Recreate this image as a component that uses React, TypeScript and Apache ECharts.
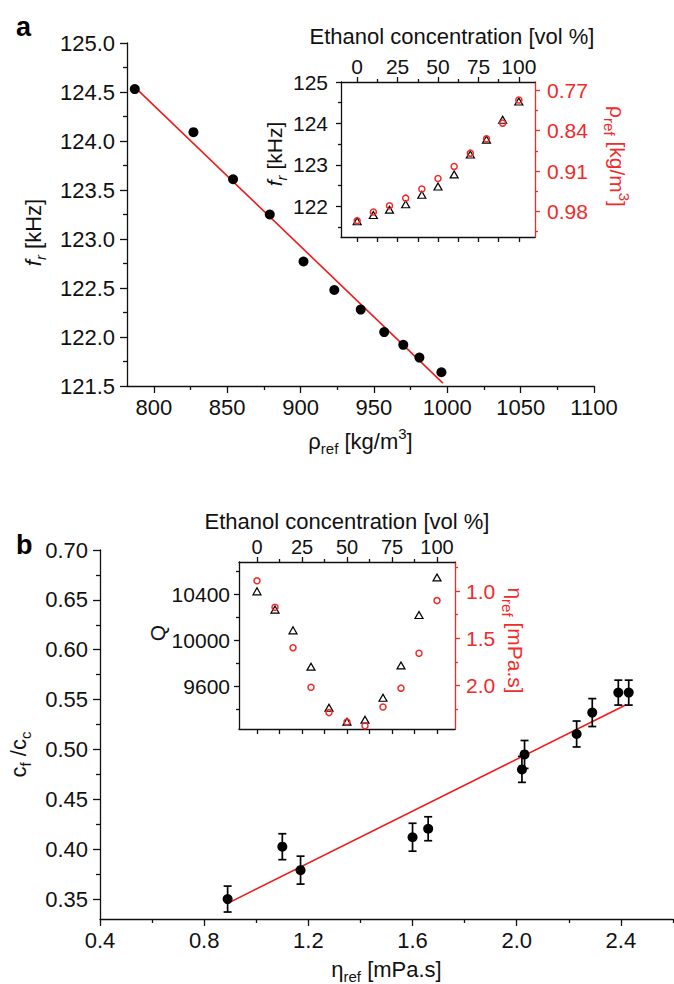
import React, { useEffect, useRef } from 'react';
import * as echarts from 'echarts';

// ---------- data ----------
const ethanolConc = [0, 10, 20, 30, 40, 50, 60, 70, 80, 90, 100];
// reference density (g/cm3) per ethanol concentration
const densityRef = [0.996, 0.981, 0.970, 0.957, 0.941, 0.923, 0.902, 0.879, 0.854, 0.827, 0.787];
// resonance frequency f_r [kHz] per ethanol concentration
const resonanceFreq = [121.64, 121.79, 121.92, 122.05, 122.28, 122.48, 122.77, 123.25, 123.61, 124.09, 124.53];
// reference viscosity [mPa.s] per ethanol concentration
const viscosityRef = [0.89, 1.17, 1.60, 2.02, 2.29, 2.39, 2.43, 2.23, 2.03, 1.66, 1.10];
// quality factor Q per ethanol concentration
const qFactor = [10429, 10270, 10090, 9774, 9417, 9296, 9313, 9504, 9785, 10223, 10550];
// c_f / c_c per ethanol concentration, with error
const cfOverCc = [0.350, 0.379, 0.412, 0.480, 0.537, 0.557, 0.557, 0.5155, 0.495, 0.4205, 0.4025];
const cfOverCcErr = [0.013, 0.014, 0.014, 0.013, 0.014, 0.0125, 0.0125, 0.013, 0.014, 0.012, 0.013];
// linear fits (end points)
const fitAX = [787, 997];
const fitAY = [124.55, 121.53];
const fitBX = [0.89, 2.42];
const fitBY = [0.3457, 0.5449];

// ---------- ticks ----------
const mainAXTicks = [800, 850, 900, 950, 1000, 1050, 1100];
const mainAXMinor = [825, 875, 925, 975, 1025, 1075];
const mainAYTicks = [121.5, 122.0, 122.5, 123.0, 123.5, 124.0, 124.5, 125.0];
const mainAYMinor = [121.75, 122.25, 122.75, 123.25, 123.75, 124.25, 124.75];
const concTicks = [0, 25, 50, 75, 100];
const concMinor = [12.5, 37.5, 62.5, 87.5];
const insetAFTicks = [122, 123, 124, 125];
const insetAFMinor = [121.5, 122.5, 123.5, 124.5];
const insetARhoTicks = [0.77, 0.84, 0.91, 0.98];
const insetARhoMinor = [0.805, 0.875, 0.945, 1.015];
const mainBXTicks = [0.4, 0.8, 1.2, 1.6, 2.0, 2.4];
const mainBXMinor = [0.6, 1.0, 1.4, 1.8, 2.2, 2.6];
const mainBYTicks = [0.35, 0.40, 0.45, 0.50, 0.55, 0.60, 0.65, 0.70];
const mainBYMinor = [0.375, 0.425, 0.475, 0.525, 0.575, 0.625, 0.675];
const insetBQTicks = [9600, 10000, 10400];
const insetBQMinor = [9400, 9800, 10200, 10600];
const insetBEtaTicks = [1.0, 1.5, 2.0];
const insetBEtaMinor = [0.75, 1.25, 1.75, 2.25];

const FONT = '"Liberation Sans", Arial, Helvetica, sans-serif';
const RED = '#f22a2a';
const BLACK = '#111';

function rich(size: number, color: string, lh: number) {
  return {
    n: { fontSize: size, fontFamily: FONT, color, lineHeight: lh },
    i: { fontSize: size, fontFamily: FONT, color, fontStyle: 'italic', lineHeight: lh },
    sub: { fontSize: 15, fontFamily: FONT, color, lineHeight: 15, verticalAlign: 'bottom' },
    isub: { fontSize: 15, fontFamily: FONT, color, fontStyle: 'italic', lineHeight: 15, verticalAlign: 'bottom' },
    sup: { fontSize: 15, fontFamily: FONT, color, lineHeight: 15, verticalAlign: 'top' },
  };
}

interface AxOpt {
  grid: number;
  pos: string;
  min: number;
  max: number;
  inverse?: boolean;
  color?: string;
  major: number[];
  minor: number[];
  tickLen: number;
  minorLen: number;
  labels?: boolean;
  fmt?: (v: number) => string;
  labelSize?: number;
  margin?: number;
  name?: string;
  nameGap?: number;
  nameRotate?: number;
  namePadding?: number[];
  nameSize?: number;
  nameLH?: number;
}

function axisPair(o: AxOpt) {
  const color = o.color || BLACK;
  const base = {
    type: 'value',
    gridIndex: o.grid,
    position: o.pos,
    min: o.min,
    max: o.max,
    inverse: !!o.inverse,
    splitLine: { show: false },
    minorTick: { show: false },
    minorSplitLine: { show: false },
  };
  const major: any = {
    ...base,
    axisLine: { show: true, onZero: false, lineStyle: { color, width: 1.3 } },
    axisTick: { show: true, inside: false, length: o.tickLen, customValues: o.major, lineStyle: { color, width: 1.3 } },
    axisLabel: o.labels
      ? {
          show: true,
          customValues: o.major,
          formatter: (v: number) => (o.fmt ? o.fmt(v) : String(v)),
          fontSize: o.labelSize || 21,
          fontFamily: FONT,
          color,
          margin: o.margin ?? 10,
          showMinLabel: true,
          showMaxLabel: true,
          hideOverlap: false,
        }
      : { show: false },
  };
  if (o.name) {
    const lh = o.nameLH || 30;
    major.name = o.name;
    major.nameLocation = 'middle';
    major.nameGap = o.nameGap;
    major.nameMoveOverlap = false;
    if (o.nameRotate !== undefined) major.nameRotate = o.nameRotate;
    major.nameTextStyle = {
      fontSize: o.nameSize || 22,
      fontFamily: FONT,
      color,
      lineHeight: lh,
      padding: o.namePadding || [0, 0, 0, 0],
      rich: rich(o.nameSize || 22, color, lh),
    };
  }
  const minor: any = {
    ...base,
    axisLine: { show: false, onZero: false },
    axisTick: { show: true, inside: false, length: o.minorLen, customValues: o.minor, lineStyle: { color, width: 1.3 } },
    axisLabel: { show: false },
  };
  return [major, minor];
}

export default function App() {
  const ref = useRef<HTMLDivElement>(null);

  useEffect(() => {
    document.body.style.margin = '0';
    if (!ref.current) return;
    const chart = echarts.init(ref.current, undefined, { renderer: 'svg' });

    const xAxes = [
      // main a x (0,1)
      ...axisPair({
        grid: 0, pos: 'bottom', min: 781.7, max: 1100, major: mainAXTicks, minor: mainAXMinor,
        tickLen: 7, minorLen: 4, labels: true, fmt: (v) => v.toFixed(0), labelSize: 22, margin: 10,
        name: '{n|ρ}{sub|ref}{n| [kg/m}{sup|3}{n|]}', nameGap: 40,
      }),
      // inset a top (2,3)
      ...axisPair({
        grid: 1, pos: 'top', min: -10, max: 110, major: concTicks, minor: concMinor,
        tickLen: 5, minorLen: 3, labels: true, fmt: (v) => v.toFixed(0), labelSize: 21, margin: 5,
        name: '{n|Ethanol concentration [vol %]}', nameGap: 35, namePadding: [0, 0, 0, 28], nameSize: 22, nameLH: 22,
      }),
      // inset a bottom (4,5)
      ...axisPair({
        grid: 1, pos: 'bottom', min: -10, max: 110, major: concTicks, minor: concMinor,
        tickLen: 5, minorLen: 5, labels: false,
      }),
      // main b x (6,7)
      ...axisPair({
        grid: 2, pos: 'bottom', min: 0.4, max: 2.6, major: mainBXTicks, minor: mainBXMinor,
        tickLen: 7, minorLen: 4, labels: true, fmt: (v) => v.toFixed(1), labelSize: 22, margin: 10,
        name: '{n|η}{sub|ref}{n| [mPa.s]}', nameGap: 35,
      }),
      // inset b top (8,9)
      ...axisPair({
        grid: 3, pos: 'top', min: -10, max: 110, major: concTicks, minor: concMinor,
        tickLen: 5, minorLen: 3, labels: true, fmt: (v) => v.toFixed(0), labelSize: 20, margin: 5,
        name: '{n|Ethanol concentration [vol %]}', nameGap: 30, nameSize: 22, nameLH: 22,
      }),
      // inset b bottom (10,11)
      ...axisPair({
        grid: 3, pos: 'bottom', min: -10, max: 110, major: concTicks, minor: concMinor,
        tickLen: 5, minorLen: 5, labels: false,
      }),
    ];

    const yAxes = [
      // main a y (0,1)
      ...axisPair({
        grid: 0, pos: 'left', min: 121.5, max: 125, major: mainAYTicks, minor: mainAYMinor,
        tickLen: 7, minorLen: 4, labels: true, fmt: (v) => v.toFixed(1), labelSize: 22, margin: 12,
        name: '{i|f}{isub|r}{n| [kHz]}', nameGap: 79, namePadding: [0, 36, 0, 0],
      }),
      // inset a left (2,3)
      ...axisPair({
        grid: 1, pos: 'left', min: 121.26, max: 125, major: insetAFTicks, minor: insetAFMinor,
        tickLen: 5, minorLen: 3, labels: true, fmt: (v) => v.toFixed(0), labelSize: 21, margin: 13,
        name: '{i|f}{isub|r}{n| [kHz]}', nameGap: 52, namePadding: [0, 0, 0, 11], nameSize: 21,
      }),
      // inset a right (4,5)
      ...axisPair({
        grid: 1, pos: 'right', min: 0.7557, max: 1.0243, inverse: true, color: RED,
        major: insetARhoTicks, minor: insetARhoMinor,
        tickLen: 5, minorLen: 3, labels: true, fmt: (v) => v.toFixed(2), labelSize: 21, margin: 12,
        name: '{n|ρ}{sub|ref}{n| [kg/m}{sup|3}{n|]}', nameGap: 67, nameRotate: -90,
        namePadding: [0, 6, 0, 0], nameSize: 21,
      }),
      // main b y (6,7)
      ...axisPair({
        grid: 2, pos: 'left', min: 0.33, max: 0.70, major: mainBYTicks, minor: mainBYMinor,
        tickLen: 7, minorLen: 4, labels: true, fmt: (v) => v.toFixed(2), labelSize: 22, margin: 12,
        name: '{n|c}{sub|f}{n| /c}{sub|c}', nameGap: 67, namePadding: [0, 40, 0, 0],
      }),
      // inset b left (8,9)
      ...axisPair({
        grid: 3, pos: 'left', min: 9232, max: 10684, major: insetBQTicks, minor: insetBQMinor,
        tickLen: 5, minorLen: 3, labels: true, fmt: (v) => v.toFixed(0), labelSize: 21, margin: 9,
        name: '{n|Q}', nameGap: 67, namePadding: [0, 0, 0, 25], nameSize: 21,
      }),
      // inset b right (10,11)
      ...axisPair({
        grid: 3, pos: 'right', min: 0.69, max: 2.464, inverse: true, color: RED,
        major: insetBEtaTicks, minor: insetBEtaMinor,
        tickLen: 5, minorLen: 3, labels: true, fmt: (v) => v.toFixed(1), labelSize: 21, margin: 11,
        name: '{n|η}{sub|ref}{n| [mPa.s]}', nameGap: 45, nameRotate: -90,
        namePadding: [0, 10, 0, 0], nameSize: 21,
      }),
    ];

    const hollowTri = {
      type: 'scatter', symbol: 'triangle', symbolSize: [8, 7],
      itemStyle: { color: 'rgba(0,0,0,0)', borderColor: '#000', borderWidth: 1.2, opacity: 1 },
    };
    const hollowCirc = {
      type: 'scatter', symbol: 'circle', symbolSize: 6,
      itemStyle: { color: 'rgba(0,0,0,0)', borderColor: RED, borderWidth: 1.5, opacity: 1 },
    };

    const option: any = {
      animation: false,
      backgroundColor: '#fff',
      grid: [
        { left: 127, top: 43, width: 467, height: 343, containLabel: false, outerBoundsMode: 'none' },
        { left: 341, top: 82, width: 194, height: 155, containLabel: false, outerBoundsMode: 'none' },
        { left: 100, top: 550, width: 573, height: 369, containLabel: false, outerBoundsMode: 'none' },
        { left: 239, top: 562, width: 216, height: 167, containLabel: false, outerBoundsMode: 'none' },
      ],
      xAxis: xAxes,
      yAxis: yAxes,
      graphic: [
        {
          type: 'text', left: 16, top: 13,
          style: { text: 'a', font: `bold 27px ${FONT}`, fill: '#000' },
        },
        {
          type: 'text', left: 16, top: 531,
          style: { text: 'b', font: `bold 27px ${FONT}`, fill: '#000' },
        },
      ],
      series: [
        // panel a main
        {
          type: 'line', xAxisIndex: 0, yAxisIndex: 0,
          data: fitAX.map((x, i) => [x, fitAY[i]]),
          showSymbol: false, symbol: 'none',
          lineStyle: { color: '#ee1c1c', width: 1.6 }, z: 2,
        },
        {
          type: 'scatter', xAxisIndex: 0, yAxisIndex: 0,
          data: densityRef.map((d, i) => [d * 1000, resonanceFreq[i]]),
          symbolSize: 10, itemStyle: { color: '#000', opacity: 1 }, z: 3,
        },
        // inset a
        {
          ...hollowTri, xAxisIndex: 2, yAxisIndex: 2,
          data: ethanolConc.map((c, i) => [c, resonanceFreq[i]]),
        },
        {
          ...hollowCirc, xAxisIndex: 2, yAxisIndex: 4,
          data: ethanolConc.map((c, i) => [c, densityRef[i]]),
        },
        // panel b main
        {
          type: 'line', xAxisIndex: 6, yAxisIndex: 6,
          data: fitBX.map((x, i) => [x, fitBY[i]]),
          showSymbol: false, symbol: 'none',
          lineStyle: { color: '#ee1c1c', width: 1.6 }, z: 2,
        },
        {
          type: 'custom', xAxisIndex: 6, yAxisIndex: 6,
          data: viscosityRef.map((v, i) => [v, cfOverCc[i], cfOverCcErr[i]]),
          encode: { x: 0, y: 1 },
          z: 3,
          renderItem: (params: any, api: any) => {
            const x = api.value(0);
            const y = api.value(1);
            const e = api.value(2);
            const top = api.coord([x, y + e]);
            const bot = api.coord([x, y - e]);
            const hw = 4;
            const st = { stroke: '#000', lineWidth: 1.7 };
            return {
              type: 'group',
              children: [
                { type: 'line', shape: { x1: top[0], y1: top[1], x2: bot[0], y2: bot[1] }, style: st },
                { type: 'line', shape: { x1: top[0] - hw, y1: top[1], x2: top[0] + hw, y2: top[1] }, style: st },
                { type: 'line', shape: { x1: bot[0] - hw, y1: bot[1], x2: bot[0] + hw, y2: bot[1] }, style: st },
              ],
            };
          },
        },
        {
          type: 'scatter', xAxisIndex: 6, yAxisIndex: 6,
          data: viscosityRef.map((v, i) => [v, cfOverCc[i]]),
          symbolSize: 10, itemStyle: { color: '#000', opacity: 1 }, z: 4,
        },
        // inset b
        {
          ...hollowTri, xAxisIndex: 8, yAxisIndex: 8,
          data: ethanolConc.map((c, i) => [c, qFactor[i]]),
        },
        {
          ...hollowCirc, xAxisIndex: 8, yAxisIndex: 10,
          data: ethanolConc.map((c, i) => [c, viscosityRef[i]]),
        },
      ],
    };

    chart.setOption(option);
    return () => {
      chart.dispose();
    };
  }, []);

  return <div ref={ref} style={{ width: 674, height: 984 }} />;
}
